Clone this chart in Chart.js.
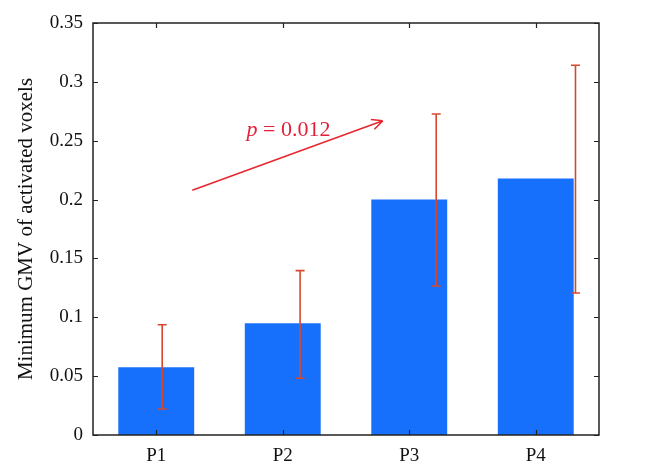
<!DOCTYPE html>
<html>
<head>
<meta charset="utf-8">
<script src="https://cdn.jsdelivr.net/npm/chart.js@4"></script>
<style>
html,body{margin:0;padding:0;background:#fff;}
#wrap{width:659px;height:474px;}
</style>
</head>
<body>
<div id="wrap"><canvas id="c" width="659" height="474"></canvas></div>
<script>
// ---- data ----
const categories = ['P1', 'P2', 'P3', 'P4'];
const meanValues = [0.0575, 0.095, 0.2, 0.218];
const errorUpper = [0.0937, 0.1396, 0.2727, 0.3141];
const errorLower = [0.0221, 0.0482, 0.1266, 0.1206];
// horizontal location of each error bar, in category units (the original draws them shifted)
const errorXPos = [0.047, 1.137, 2.213, 3.314];
const yTickLabels = ['0', '0.05', '0.1', '0.15', '0.2', '0.25', '0.3', '0.35'];
const yTitle = 'Minimum GMV of activated voxels';
const annotationText = { italic: 'p', rest: ' = 0.012' };
const arrowFrom = [0.285, 0.208];
const arrowTo = [1.791, 0.267];
const annotationAt = [1.046, 0.259];

const SERIF = '"Liberation Serif", "Times New Roman", serif';

const framePlugin = {
  id: 'frame',
  afterDatasetsDraw(chart) {
    const ctx = chart.ctx;
    const xs = chart.scales.x, ys = chart.scales.y;
    const a = chart.chartArea;
    ctx.save();
    // error bars
    ctx.strokeStyle = '#d6492f';
    ctx.lineWidth = 1.6;
    for (let i = 0; i < categories.length; i++) {
      const px = xs.getPixelForValue(errorXPos[i]);
      const yt = ys.getPixelForValue(errorUpper[i]);
      const yb = ys.getPixelForValue(errorLower[i]);
      ctx.beginPath();
      ctx.moveTo(px, yt); ctx.lineTo(px, yb);
      ctx.moveTo(px - 4.5, yt); ctx.lineTo(px + 4.5, yt);
      ctx.moveTo(px - 4.5, yb); ctx.lineTo(px + 4.5, yb);
      ctx.stroke();
    }
    // arrow
    const x1 = xs.getPixelForValue(arrowFrom[0]), y1 = ys.getPixelForValue(arrowFrom[1]);
    const x2 = xs.getPixelForValue(arrowTo[0]), y2 = ys.getPixelForValue(arrowTo[1]);
    ctx.strokeStyle = '#e8262f';
    ctx.lineWidth = 1.6;
    ctx.beginPath();
    ctx.moveTo(x1, y1); ctx.lineTo(x2, y2);
    const ang = Math.atan2(y2 - y1, x2 - x1);
    const hl = 12;
    ctx.moveTo(x2, y2);
    ctx.lineTo(x2 - hl * Math.cos(ang - 0.45), y2 - hl * Math.sin(ang - 0.45));
    ctx.moveTo(x2, y2);
    ctx.lineTo(x2 - hl * Math.cos(ang + 0.45), y2 - hl * Math.sin(ang + 0.45));
    ctx.stroke();
    // annotation text
    const tx = xs.getPixelForValue(annotationAt[0]), ty = ys.getPixelForValue(annotationAt[1]);
    ctx.fillStyle = '#e3203a';
    ctx.textBaseline = 'middle';
    ctx.font = 'italic 22px ' + SERIF;
    const w1 = ctx.measureText(annotationText.italic).width;
    ctx.font = '22px ' + SERIF;
    const w2 = ctx.measureText(annotationText.rest).width;
    let sx = tx - (w1 + w2) / 2;
    ctx.font = 'italic 22px ' + SERIF;
    ctx.textAlign = 'left';
    ctx.fillText(annotationText.italic, sx, ty);
    ctx.font = '22px ' + SERIF;
    ctx.fillText(annotationText.rest, sx + w1, ty);

    // frame
    ctx.strokeStyle = '#222';
    ctx.lineWidth = 1.5;
    ctx.strokeRect(a.left, a.top, a.right - a.left, a.bottom - a.top);
    ctx.lineWidth = 1.2;
    ctx.beginPath();
    const tl = 5;
    ys.ticks.forEach(t => {
      const py = Math.round(ys.getPixelForValue(t.value)) + 0.5;
      ctx.moveTo(a.left, py); ctx.lineTo(a.left + tl, py);
      ctx.moveTo(a.right, py); ctx.lineTo(a.right - tl, py);
    });
    categories.forEach((c, i) => {
      const px = Math.round(xs.getPixelForValue(i)) + 0.5;
      ctx.moveTo(px, a.bottom); ctx.lineTo(px, a.bottom - tl);
      ctx.moveTo(px, a.top); ctx.lineTo(px, a.top + tl);
    });
    ctx.stroke();
    ctx.restore();
  }
};

new Chart(document.getElementById('c'), {
  type: 'bar',
  data: {
    labels: categories,
    datasets: [{
      data: meanValues,
      backgroundColor: '#1670fb',
      borderWidth: 0,
      barPercentage: 0.6,
      categoryPercentage: 1.0
    }]
  },
  options: {
    responsive: false,
    animation: false,
    events: [],
    layout: { padding: { top: 23, right: 60, left: 0, bottom: 0 } },
    plugins: { legend: { display: false }, tooltip: { enabled: false } },
    scales: {
      x: {
        grid: { display: false, drawTicks: false },
        border: { display: false },
        ticks: { color: '#111', padding: 10, font: { family: SERIF, size: 19 } },
        afterFit(s) { s.height = 39; }
      },
      y: {
        min: 0, max: 0.35,
        grid: { display: false, drawTicks: false },
        border: { display: false },
        ticks: {
          stepSize: 0.05,
          color: '#111',
          padding: 10,
          font: { family: SERIF, size: 19 },
          callback: (v, i) => yTickLabels[i] !== undefined ? yTickLabels[i] : String(+v.toFixed(2))
        },
        title: {
          display: true, text: yTitle, color: '#111',
          font: { family: SERIF, size: 21 },
          padding: { top: 14, bottom: 0 }
        },
        afterFit(s) { s.width = 93; }
      }
    }
  },
  plugins: [framePlugin]
});
</script>
</body>
</html>
